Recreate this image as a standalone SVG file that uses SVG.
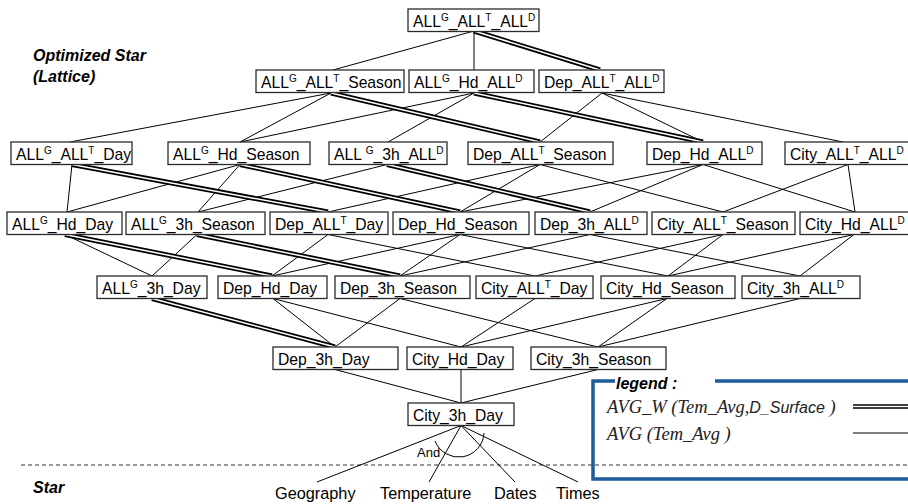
<svg xmlns="http://www.w3.org/2000/svg" xmlns:xlink="http://www.w3.org/1999/xlink" width="908" height="504" viewBox="0 0 908 504">
<style>
.bx{fill:#fff;stroke:#2b2b2b;stroke-width:1.3}
.lb{font-family:"Liberation Sans",Arial,sans-serif;font-size:15.7px;fill:#000}
.s{font-size:10px}
.t{stroke:#000;stroke-width:1;fill:none}
.dblo{stroke:#000;stroke-width:5;fill:none}
.dbli{stroke:#fff;stroke-width:1.5;fill:none}
.hd{font-family:"Liberation Sans",Arial,sans-serif;font-size:16px;font-weight:bold;font-style:italic;fill:#000}
.st{font-family:"Liberation Sans",Arial,sans-serif;font-size:16.3px;fill:#000}
.lg{font-family:"Liberation Serif","Times New Roman",serif;font-size:18.5px;font-style:italic;fill:#222}
.leg{stroke:#1f5c99;stroke-width:3.5;fill:none}
</style>
<defs>
<path id="dbl" d="M474,31L600,70 M331,93L540,142 M474,93L703,142 M72,164.5L328,212 M240,164.5L460,212 M387,164.5L590,212 M65,234.5L272,276 M197,234.5L400,276 M152,298.5L335,347"/>
</defs>
<text class="hd" x="33" y="61">Optimized Star</text>
<text class="hd" x="33" y="82">(Lattice)</text>
<text class="hd" x="33" y="493">Star</text>
<line x1="21" y1="465" x2="908" y2="465" stroke="#333" stroke-width="1" stroke-dasharray="4 3"/>
<g id="connectors">
<path class="t" d="M474,31L333,70 M474,31L474,70
M331,93L70,142 M331,93L240,142 M474,93L240,142 M474,93L388,142 M602,93L540,142 M602,93L703,142 M602,93L843,142
M72,164.5L67,212 M240,164.5L67,212 M240,164.5L198,212 M387,164.5L198,212 M540,164.5L328,212 M540,164.5L460,212 M540,164.5L723,212 M703,164.5L460,212 M703,164.5L590,212 M703,164.5L855,212 M848,164.5L723,212 M848,164.5L855,212
M65,234.5L152,276 M197,234.5L152,276 M328,234.5L272,276 M328,234.5L535,276 M460,234.5L272,276 M460,234.5L400,276 M460,234.5L668,276 M590,234.5L400,276 M590,234.5L800,276 M723,234.5L535,276 M723,234.5L668,276 M854,234.5L668,276 M854,234.5L800,276
M273,298.5L335,347 M273,298.5L461,347 M400,298.5L335,347 M400,298.5L598,347 M535,298.5L461,347 M667,298.5L461,347 M667,298.5L598,347 M800,298.5L598,347
M335,369.5L461,403 M461,369.5L461,403 M598,369.5L461,403
M461,425.5L317,482 M461,425.5L429,482 M461,425.5L515,482 M461,425.5L578,482
M435,441A25.4,25.4 0 0 0 484,433"/>
<use xlink:href="#dbl" href="#dbl" class="dblo"/>
<use xlink:href="#dbl" href="#dbl" class="dbli"/>
</g>
<g id="n_root"><rect class="bx" x="408" y="9" width="131" height="22.5"/><text class="lb" x="413" y="26.5">ALL<tspan class="s" dy="-5.5">G</tspan><tspan dy="5.5">_ALL</tspan><tspan class="s" dy="-5.5">T</tspan><tspan dy="5.5">_ALL</tspan><tspan class="s" dy="-5.5">D</tspan></text></g>
<g id="n_ALL_ALL_Season"><rect class="bx" x="256" y="70" width="148" height="22.5"/><text class="lb" x="261" y="87.5">ALL<tspan class="s" dy="-5.5">G</tspan><tspan dy="5.5">_ALL</tspan><tspan class="s" dy="-5.5">T</tspan><tspan dy="5.5">_Season</tspan></text></g>
<g id="n_ALL_Hd_ALL"><rect class="bx" x="409" y="70" width="125" height="22.5"/><text class="lb" x="414" y="87.5">ALL<tspan class="s" dy="-5.5">G</tspan><tspan dy="5.5">_Hd_ALL</tspan><tspan class="s" dy="-5.5">D</tspan></text></g>
<g id="n_Dep_ALL_ALL"><rect class="bx" x="539" y="70" width="125" height="22.5"/><text class="lb" x="544" y="87.5">Dep_ALL<tspan class="s" dy="-5.5">T</tspan><tspan dy="5.5">_ALL</tspan><tspan class="s" dy="-5.5">D</tspan></text></g>
<g id="n_ALL_ALL_Day"><rect class="bx" x="11" y="142" width="121" height="22.5"/><text class="lb" x="16" y="159.5">ALL<tspan class="s" dy="-5.5">G</tspan><tspan dy="5.5">_ALL</tspan><tspan class="s" dy="-5.5">T</tspan><tspan dy="5.5">_Day</tspan></text></g>
<g id="n_ALL_Hd_Season"><rect class="bx" x="168" y="142" width="142" height="22.5"/><text class="lb" x="173" y="159.5">ALL<tspan class="s" dy="-5.5">G</tspan><tspan dy="5.5">_Hd_Season</tspan></text></g>
<g id="n_ALL_3h_ALL"><rect class="bx" x="329" y="142" width="118" height="22.5"/><text class="lb" x="334" y="159.5">ALL <tspan class="s" dy="-5.5">G</tspan><tspan dy="5.5">_3h_ALL</tspan><tspan class="s" dy="-5.5">D</tspan></text></g>
<g id="n_Dep_ALL_Season"><rect class="bx" x="468" y="142" width="145" height="22.5"/><text class="lb" x="473" y="159.5">Dep_ALL<tspan class="s" dy="-5.5">T</tspan><tspan dy="5.5">_Season</tspan></text></g>
<g id="n_Dep_Hd_ALL"><rect class="bx" x="647" y="142" width="115" height="22.5"/><text class="lb" x="652" y="159.5">Dep_Hd_ALL<tspan class="s" dy="-5.5">D</tspan></text></g>
<g id="n_City_ALL_ALL"><rect class="bx" x="785" y="142" width="130" height="22.5"/><text class="lb" x="790" y="159.5">City_ALL<tspan class="s" dy="-5.5">T</tspan><tspan dy="5.5">_ALL</tspan><tspan class="s" dy="-5.5">D</tspan></text></g>
<g id="n_ALL_Hd_Day"><rect class="bx" x="7" y="212" width="115" height="22.5"/><text class="lb" x="12" y="229.5">ALL<tspan class="s" dy="-5.5">G</tspan><tspan dy="5.5">_Hd_Day</tspan></text></g>
<g id="n_ALL_3h_Season"><rect class="bx" x="126" y="212" width="139" height="22.5"/><text class="lb" x="131" y="229.5">ALL<tspan class="s" dy="-5.5">G</tspan><tspan dy="5.5">_3h_Season</tspan></text></g>
<g id="n_Dep_ALL_Day"><rect class="bx" x="270" y="212" width="118" height="22.5"/><text class="lb" x="275" y="229.5">Dep_ALL<tspan class="s" dy="-5.5">T</tspan><tspan dy="5.5">_Day</tspan></text></g>
<g id="n_Dep_Hd_Season"><rect class="bx" x="393" y="212" width="136" height="22.5"/><text class="lb" x="398" y="229.5">Dep_Hd_Season</text></g>
<g id="n_Dep_3h_ALL"><rect class="bx" x="535" y="212" width="112" height="22.5"/><text class="lb" x="540" y="229.5">Dep_3h_ALL<tspan class="s" dy="-5.5">D</tspan></text></g>
<g id="n_City_ALL_Season"><rect class="bx" x="652" y="212" width="143" height="22.5"/><text class="lb" x="657" y="229.5">City_ALL<tspan class="s" dy="-5.5">T</tspan><tspan dy="5.5">_Season</tspan></text></g>
<g id="n_City_Hd_ALL"><rect class="bx" x="800" y="212" width="115" height="22.5"/><text class="lb" x="805" y="229.5">City_Hd_ALL<tspan class="s" dy="-5.5">D</tspan></text></g>
<g id="n_ALL_3h_Day"><rect class="bx" x="97" y="276" width="110" height="22.5"/><text class="lb" x="102" y="293.5">ALL<tspan class="s" dy="-5.5">G</tspan><tspan dy="5.5">_3h_Day</tspan></text></g>
<g id="n_Dep_Hd_Day"><rect class="bx" x="218" y="276" width="109" height="22.5"/><text class="lb" x="223" y="293.5">Dep_Hd_Day</text></g>
<g id="n_Dep_3h_Season"><rect class="bx" x="335" y="276" width="135" height="22.5"/><text class="lb" x="340" y="293.5">Dep_3h_Season</text></g>
<g id="n_City_ALL_Day"><rect class="bx" x="476" y="276" width="117" height="22.5"/><text class="lb" x="481" y="293.5">City_ALL<tspan class="s" dy="-5.5">T</tspan><tspan dy="5.5">_Day</tspan></text></g>
<g id="n_City_Hd_Season"><rect class="bx" x="601" y="276" width="134" height="22.5"/><text class="lb" x="606" y="293.5">City_Hd_Season</text></g>
<g id="n_City_3h_ALL"><rect class="bx" x="742" y="276" width="118" height="22.5"/><text class="lb" x="747" y="293.5">City_3h_ALL<tspan class="s" dy="-5.5">D</tspan></text></g>
<g id="n_Dep_3h_Day"><rect class="bx" x="273" y="347" width="125" height="22.5"/><text class="lb" x="278" y="364.5">Dep_3h_Day</text></g>
<g id="n_City_Hd_Day"><rect class="bx" x="407" y="347" width="106" height="22.5"/><text class="lb" x="412" y="364.5">City_Hd_Day</text></g>
<g id="n_City_3h_Season"><rect class="bx" x="531" y="347" width="135" height="22.5"/><text class="lb" x="536" y="364.5">City_3h_Season</text></g>
<g id="n_City_3h_Day"><rect class="bx" x="408" y="403" width="106" height="22.5"/><text class="lb" x="413" y="420.5">City_3h_Day</text></g>
<g id="star">
<text class="st" x="417" y="457" style="font-size:13px">And</text>
<text class="st" x="275" y="499">Geography</text>
<text class="st" x="380" y="499">Temperature</text>
<text class="st" x="494" y="499">Dates</text>
<text class="st" x="556" y="499">Times</text>
</g>
<g id="legend">
<path class="leg" d="M615,381H593V479H912 M715,381H912"/>
<text class="hd" x="616" y="389">legend :</text>
<text class="lg" x="607" y="413">AVG_W (Tem_Avg,<tspan style="font-family:'Liberation Sans',Arial,sans-serif;font-size:16px">D_Surface</tspan> )</text>
<text class="lg" x="607" y="440">AVG (Tem_Avg )</text>
<line x1="853" y1="406.5" x2="908" y2="406.5" class="dblo" style="stroke-width:4.5"/>
<line x1="853" y1="406.5" x2="908" y2="406.5" class="dbli"/>
<line x1="853" y1="433" x2="908" y2="433" class="t"/>
</g>
</svg>
